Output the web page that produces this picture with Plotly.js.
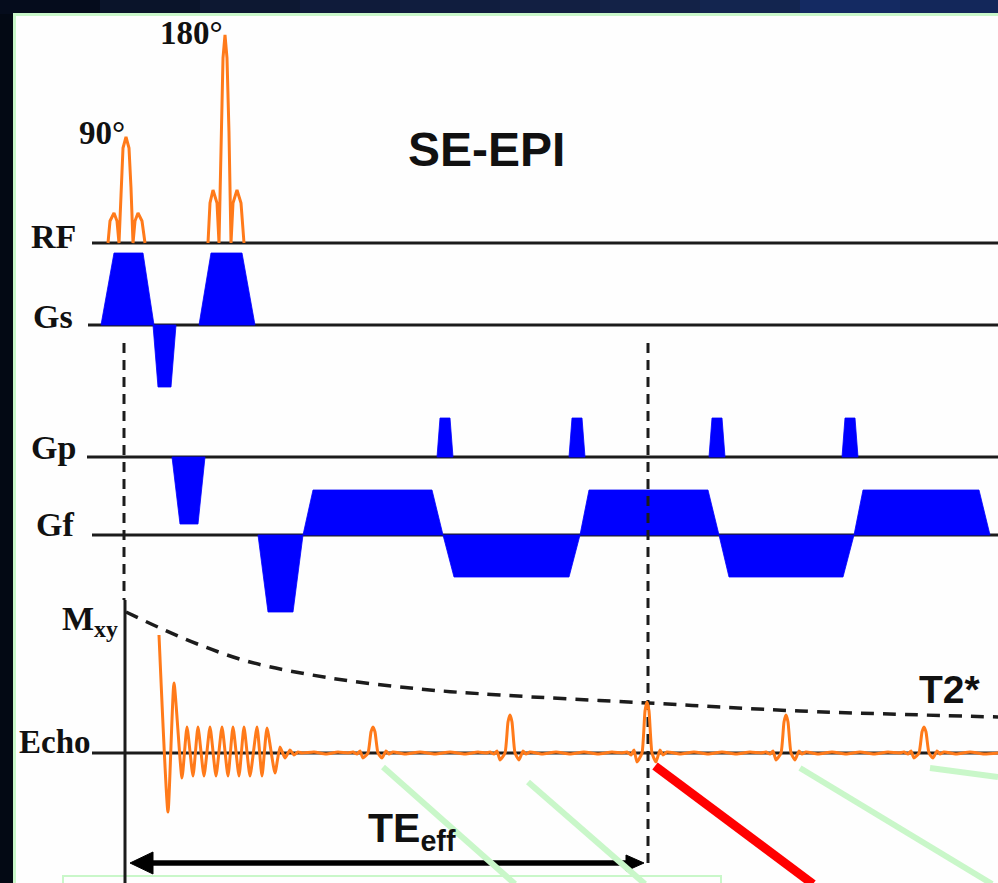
<!DOCTYPE html>
<html><head><meta charset="utf-8">
<script src="https://cdn.plot.ly/plotly-3.0.1.min.js"></script>
<style>html,body{margin:0;padding:0;background:#030914;}#chart{width:998px;height:883px;}</style>
</head><body><div id="chart"></div>
<script>
// ---------------- data (time axis in diagram units, amplitudes relative to each row's baseline) -------------
const rowNames = ['RF', 'Gs', 'Gp', 'Gf', 'Echo'];

// RF pulses (sinc-like envelopes)
const rf90T  = [108, 110, 114, 117, 119, 121, 123, 126, 129, 131, 133, 135, 138, 142, 145];
const rf90A  = [0, 22, 30, 22, 0, 55, 95, 106, 95, 55, 0, 22, 30, 22, 0];
const rf180T = [208, 210, 213, 217, 219, 221, 223, 225, 227, 229, 231, 233, 237, 241, 244];
const rf180A = [0, 40, 53, 40, 0, 110, 185, 208, 185, 110, 0, 40, 53, 40, 0];

// Gradient lobes: [rampStart, plateauStart, plateauEnd, rampEnd] and amplitude
const gsLobes = [[101, 114, 143, 154], [153, 158, 171, 176], [199, 211, 242, 255]];
const gsAmp   = [72, -62, 72];
const gpLobes = [[172, 180, 198, 205], [437, 440, 450, 453], [569, 572, 582, 585], [709, 712, 722, 725], [842, 845, 855, 858]];
const gpAmp   = [-67, 39, 39, 39, 39];
const gfLobes = [[258, 268, 293, 303], [303, 313, 432, 443], [443, 454, 569, 580], [580, 589, 708, 719], [719, 729, 843, 854], [854, 863, 979, 990]];
const gfAmp   = [-77, 45, -42, 45, -42, 45];

// T2* decay envelope of Mxy
const decayT = [126, 160, 200, 250, 330, 420, 500, 648, 800, 998];
const decayA = [141, 125, 108, 91, 75, 64, 58, 50, 42, 36];

// Echo signal (FID then gradient echoes)
const echoT = [159, 168, 174, 182, 187, 193, 198, 204, 210, 216, 222, 228, 233, 239, 244, 250, 257, 262, 267, 275, 280, 285, 290, 294, 298, 302,
  314, 326, 338, 348,
  353, 357, 360, 363, 368, 371, 373, 375, 378, 382, 386, 389, 393,
  405, 420, 435, 450, 465, 478, 486,
  490, 494, 497, 500, 505, 508, 510, 512, 515, 519, 523, 526, 530,
  542, 556, 570, 584, 598, 612, 622,
  627, 631, 634, 637, 642, 645, 647, 649, 652, 656, 660, 663, 667,
  680, 694, 708, 722, 736, 750, 761,
  766, 770, 773, 776, 781, 784, 786, 788, 791, 795, 799, 802, 806,
  818, 832, 846, 860, 874, 888, 899,
  904, 908, 911, 914, 919, 922, 924, 926, 929, 933, 937, 940, 944,
  956, 970, 984, 998];
const echoA = [118, -59, 70, -25, 26, -23, 26, -23, 26, -23, 26, -23, 26, -23, 26, -23, 26, -23, 25, -20, 6, -5, 3, -2, 1, 0,
  1, -1, 1, 0,
  1, -1, 2, -5, 0, 21, 26, 21, 0, -5, 2, -1, 1,
  -1, 1, -1, 1, -1, 1, 0,
  1, -1, 2, -7, 0, 31, 38, 31, 0, -7, 2, -1, 1,
  -1, 1, -1, 1, -1, 1, 0,
  1, -2, 3, -9, 0, 42, 51, 42, 0, -9, 3, -2, 1,
  -1, 1, -1, 1, -1, 1, 0,
  1, -1, 2, -7, 0, 31, 38, 31, 0, -7, 2, -1, 1,
  -1, 1, -1, 1, -1, 1, 0,
  1, -1, 2, -5, 0, 21, 26, 21, 0, -5, 2, -1, 1,
  -1, 1, -1, 0];

// timing markers
const t90 = 124, teEff = 648;

// ---------------- layout geometry / styles -------------
const W = 998, H = 883;
const rowLevel = {RF: 243, Gs: 325, Gp: 457, Gf: 535, Echo: 753};
const rowStart = {RF: 92, Gs: 88, Gp: 87, Gf: 92, Echo: 92};
const ORANGE = '#ff7a1a', BLUE = '#0000ff', INK = '#1c1c1c', GREEN = '#c9f7c9';
const SERIF = 'Liberation Serif, Times New Roman, serif';
const SANS = 'Liberation Sans, Arial, sans-serif';

const traces = [];

// baselines
rowNames.forEach(r => {
  traces.push({x: [rowStart[r], W], y: [rowLevel[r], rowLevel[r]], mode: 'lines',
    line: {color: INK, width: 3}, hoverinfo: 'skip'});
});

// gradient lobes
function lobes(list, amps, row) {
  const x = [], y = [];
  const b = rowLevel[row];
  list.forEach((l, i) => {
    x.push(l[0], l[1], l[2], l[3], l[0], null);
    y.push(b, b - amps[i], b - amps[i], b, b, null);
  });
  traces.push({x, y, mode: 'lines', fill: 'toself', fillcolor: BLUE,
    line: {color: BLUE, width: 0.8}, hoverinfo: 'skip'});
}
lobes(gsLobes, gsAmp, 'Gs');
lobes(gpLobes, gpAmp, 'Gp');
lobes(gfLobes, gfAmp, 'Gf');

// dashed timing lines
traces.push({x: [t90, t90], y: [343, 600], mode: 'lines', line: {color: INK, width: 3, dash: '10px,7px'}, hoverinfo: 'skip'});
traces.push({x: [teEff, teEff], y: [343, 866], mode: 'lines', line: {color: INK, width: 3, dash: '10px,7px'}, hoverinfo: 'skip'});

// Mxy axis
traces.push({x: [t90 + 1, t90 + 1], y: [600, H], mode: 'lines', line: {color: INK, width: 3}, hoverinfo: 'skip'});

// T2* decay
traces.push({x: decayT, y: decayA.map(a => rowLevel.Echo - a), mode: 'lines',
  line: {color: INK, width: 3.5, dash: '13px,9px', shape: 'spline', smoothing: 1}, hoverinfo: 'skip'});

// RF pulses
traces.push({x: rf90T, y: rf90A.map(a => rowLevel.RF - a), mode: 'lines', line: {color: ORANGE, width: 3}, hoverinfo: 'skip'});
traces.push({x: rf180T, y: rf180A.map(a => rowLevel.RF - a), mode: 'lines', line: {color: ORANGE, width: 3}, hoverinfo: 'skip'});

// echo signal
traces.push({x: echoT, y: echoA.map(a => rowLevel.Echo - a), mode: 'lines',
  line: {color: ORANGE, width: 3, shape: 'spline', smoothing: 0.5}, hoverinfo: 'skip'});

// TE_eff arrow
const arrowY = 863;
traces.push({x: [t90 + 20, teEff - 12], y: [arrowY, arrowY], mode: 'lines', line: {color: '#000', width: 5.5}, hoverinfo: 'skip'});
traces.push({x: [t90 + 6, t90 + 29, t90 + 29, t90 + 6], y: [arrowY, arrowY - 11, arrowY + 11, arrowY], mode: 'lines',
  fill: 'toself', fillcolor: '#000', line: {color: '#000', width: 1}, hoverinfo: 'skip'});
traces.push({x: [teEff - 4, teEff - 22, teEff - 22, teEff - 4], y: [arrowY, arrowY - 8, arrowY + 8, arrowY], mode: 'lines',
  fill: 'toself', fillcolor: '#000', line: {color: '#000', width: 1}, hoverinfo: 'skip'});

// overlay pointer lines
const pointers = [
  {x: [383, 515], y: [767, 884], c: GREEN, w: 6},
  {x: [528, 645], y: [782, 884], c: GREEN, w: 6},
  {x: [800, 992], y: [768, 884], c: GREEN, w: 6},
  {x: [930, 998], y: [768, 777], c: GREEN, w: 6},
  {x: [655, 813], y: [766, 884], c: '#ff0000', w: 9}
];
pointers.forEach(p => traces.push({x: p.x, y: p.y, mode: 'lines', line: {color: p.c, width: p.w}, hoverinfo: 'skip'}));

// ---------------- background shapes -------------
const shapes = [];
const topBand = ['#050c1c', '#0a142a', '#0d1832', '#0f1b3a', '#101d3e', '#121f42', '#132247', '#13254f', '#142a62', '#13275a'];
topBand.forEach((c, i) => shapes.push({type: 'rect', xref: 'x', yref: 'y', x0: i * 100, x1: (i + 1) * 100, y0: 0, y1: 14,
  fillcolor: c, line: {width: 0}, layer: 'below'}));
shapes.push({type: 'rect', xref: 'x', yref: 'y', x0: 14.5, y0: 14.5, x1: W + 20, y1: H + 20,
  fillcolor: '#fefefe', line: {color: GREEN, width: 3}, layer: 'below'});
shapes.push({type: 'rect', xref: 'x', yref: 'y', x0: 63, y0: 876, x1: 721, y1: H + 20,
  fillcolor: 'rgba(0,0,0,0)', line: {color: GREEN, width: 2}, layer: 'below'});

// ---------------- text -------------
function ann(text, x, y, size, family, xanchor) {
  return {text, x, y, xref: 'x', yref: 'y', showarrow: false, xanchor: xanchor || 'center', yanchor: 'middle',
    font: {family, size, color: '#111'}};
}
const annotations = [
  ann('<b>SE-EPI</b>', 486, 149, 48, SANS),
  ann('<b>90°</b>', 102, 133, 33, SERIF),
  ann('<b>180°</b>', 191, 33, 33, SERIF),
  ann('<b>RF</b>', 78, 236, 34, SERIF, 'right'),
  ann('<b>Gs</b>', 75, 316, 34, SERIF, 'right'),
  ann('<b>Gp</b>', 78, 447, 34, SERIF, 'right'),
  ann('<b>Gf</b>', 76, 524, 34, SERIF, 'right'),
  ann('<b>Echo</b>', 93, 742, 33, SERIF, 'right'),
  ann('<b>M<sub>xy</sub></b>', 120, 621, 34, SERIF, 'right'),
  ann('<b>T2*</b>', 950, 689, 39, SANS),
  ann('<b>TE<sub>eff</sub></b>', 366, 831, 41, SANS, 'left')
];

const layout = {
  width: W, height: H, margin: {l: 0, r: 0, t: 0, b: 0, pad: 0},
  paper_bgcolor: '#030914', plot_bgcolor: 'rgba(0,0,0,0)', showlegend: false,
  xaxis: {range: [0, W], visible: false, fixedrange: true},
  yaxis: {range: [H, 0], visible: false, fixedrange: true},
  shapes, annotations
};
Plotly.newPlot('chart', traces, layout, {staticPlot: true, displayModeBar: false});
</script>
</body></html>
